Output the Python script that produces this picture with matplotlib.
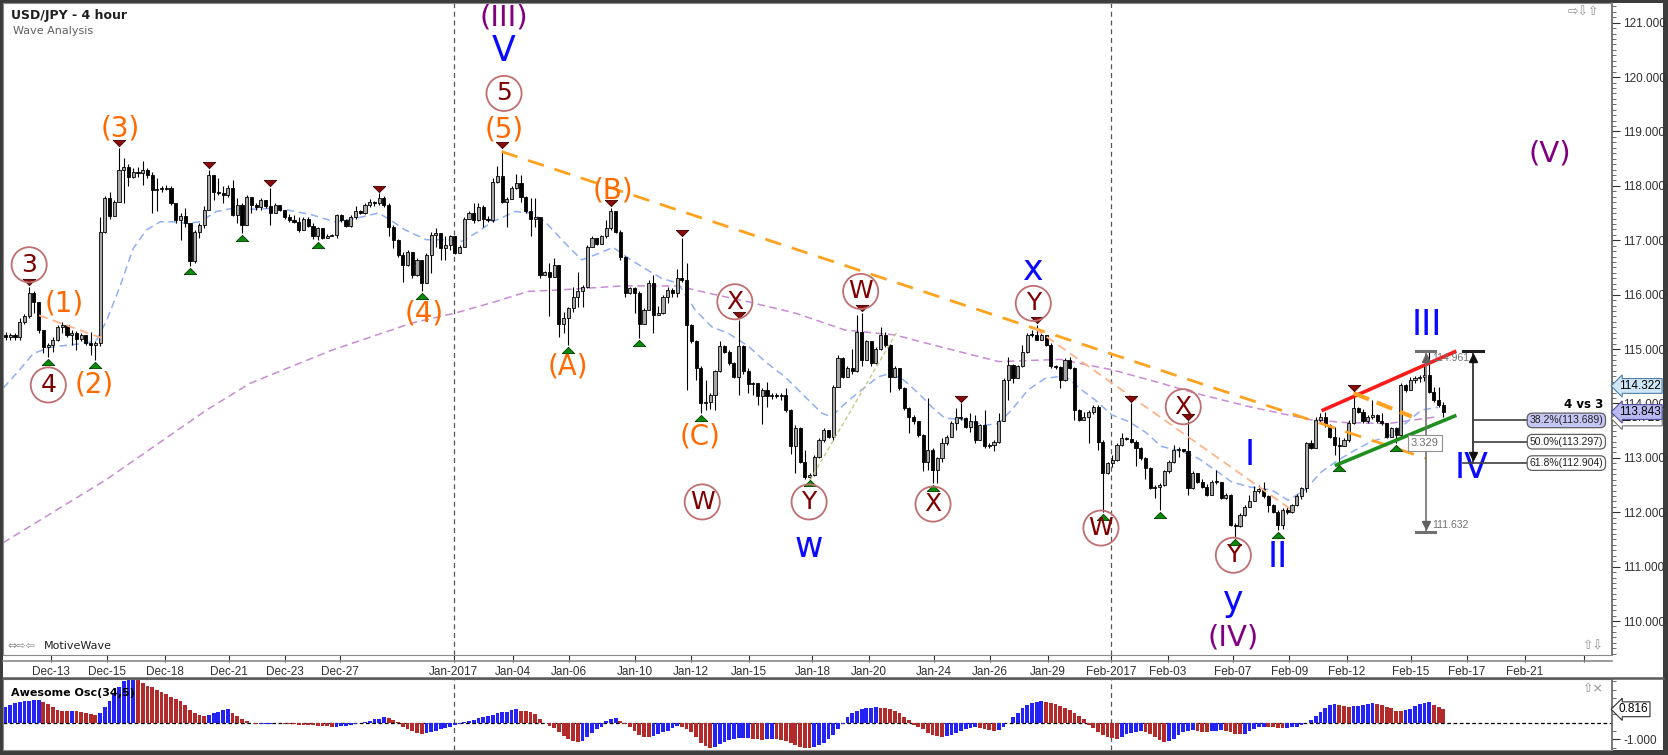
import matplotlib
matplotlib.use("Agg")
import matplotlib.pyplot as plt
import numpy as np
from matplotlib.patches import Rectangle
from matplotlib.lines import Line2D
from matplotlib.ticker import MultipleLocator, FixedLocator
import matplotlib.transforms as mtransforms

# ---------------- data ----------------
first_open = 115.25
closes = [
    115.23, 115.24, 115.23, 115.50, 115.60, 116.03, 115.87, 115.35, 115.03, 115.08,
    115.17, 115.41, 115.44, 115.26, 115.29, 115.18, 115.26, 115.11, 115.08, 115.11,
    117.16, 117.77, 117.45, 117.71, 118.29, 118.35, 118.17, 118.26, 118.23, 118.29,
    118.20, 117.93, 117.95, 117.94, 117.97, 117.68, 117.37, 117.45, 117.31, 116.61,
    117.16, 117.28, 117.56, 118.20, 117.89, 117.86, 117.83, 117.96, 117.47, 117.65,
    117.28, 117.79, 117.65, 117.61, 117.74, 117.63, 117.50, 117.65, 117.56, 117.43,
    117.37, 117.34, 117.19, 117.40, 117.26, 117.07, 117.22, 117.04, 117.08, 117.09,
    117.46, 117.37, 117.26, 117.43, 117.54, 117.51, 117.65, 117.71, 117.68, 117.77,
    117.65, 117.25, 117.01, 116.73, 116.55, 116.79, 116.36, 116.64, 116.21, 116.73,
    117.10, 117.13, 116.85, 116.91, 117.07, 116.77, 116.88, 117.40, 117.50, 117.37,
    117.62, 117.40, 117.37, 118.08, 118.18, 117.71, 117.75, 117.96, 118.05, 117.80,
    117.53, 117.40, 117.42, 116.36, 116.41, 116.33, 116.55, 115.47, 115.57, 115.75,
    115.96, 116.06, 116.15, 116.88, 117.04, 116.94, 117.07, 117.22, 117.53, 117.16,
    116.70, 116.03, 116.12, 116.03, 115.47, 115.72, 116.22, 115.63, 115.66, 115.96,
    116.09, 116.03, 116.30, 116.27, 115.44, 115.14, 114.65, 114.00, 114.03, 114.16,
    114.59, 115.05, 114.95, 114.74, 114.49, 115.05, 114.59, 114.35, 114.37, 114.13,
    114.25, 114.14, 114.16, 114.14, 114.16, 113.88, 113.21, 113.54, 112.93, 112.65,
    112.69, 113.02, 113.33, 113.51, 113.39, 114.31, 114.83, 114.49, 114.65, 114.59,
    115.32, 114.80, 115.14, 114.74, 115.01, 115.26, 115.08, 114.49, 114.65, 114.28,
    113.91, 113.76, 113.67, 113.42, 112.93, 113.15, 112.78, 113.00, 113.27, 113.39,
    113.64, 113.76, 113.73, 113.57, 113.67, 113.33, 113.60, 113.21, 113.24, 113.30,
    113.67, 114.43, 114.71, 114.46, 114.68, 114.95, 115.26, 115.25, 115.17, 115.26,
    115.08, 114.68, 114.67, 114.43, 114.80, 114.65, 113.88, 113.70, 113.76, 113.85,
    113.94, 113.30, 112.72, 112.90, 112.96, 113.24, 113.36, 113.34, 113.30, 113.18,
    112.99, 112.81, 112.44, 112.46, 112.50, 112.75, 112.93, 113.15, 113.16, 113.13,
    112.44, 112.72, 112.56, 112.47, 112.32, 112.56, 112.55, 112.26, 112.32, 111.77,
    111.75, 111.95, 112.10, 112.20, 112.40, 112.42, 112.29, 112.13, 112.01, 111.77,
    112.04, 112.01, 112.13, 112.29, 112.44, 113.27, 113.18, 113.70, 113.76, 113.60,
    113.39, 113.24, 113.21, 113.32, 113.64, 113.91, 113.85, 113.67, 113.76, 113.79,
    113.67, 113.64, 113.39, 113.54, 113.42, 114.34, 114.25, 114.43, 114.46, 114.48,
    114.52, 114.22, 114.06, 113.97, 113.84,
]
highs = [
    115.32, 115.30, 115.30, 115.57, 115.65, 116.15, 116.06, 115.79, 115.35, 115.12,
    115.23, 115.44, 115.50, 115.41, 115.35, 115.34, 115.30, 115.26, 115.32, 115.14,
    117.43, 117.81, 117.89, 117.74, 118.69, 118.51, 118.41, 118.32, 118.35, 118.45,
    118.32, 118.26, 118.14, 117.99, 118.02, 118.00, 117.68, 117.50, 117.59, 117.28,
    117.19, 117.31, 117.63, 118.29, 118.17, 118.14, 117.99, 118.02, 118.11, 117.77,
    117.68, 117.83, 117.80, 117.68, 117.77, 117.74, 117.96, 117.68, 117.65, 117.56,
    117.48, 117.47, 117.42, 117.43, 117.42, 117.32, 117.25, 117.22, 117.12, 117.11,
    117.48, 117.48, 117.40, 117.46, 117.63, 117.56, 117.68, 117.75, 117.73, 117.86,
    117.81, 117.69, 117.28, 117.02, 116.79, 116.82, 116.79, 116.67, 116.64, 116.76,
    117.16, 117.22, 117.14, 117.07, 117.10, 117.07, 116.91, 117.43, 117.54, 117.68,
    117.68, 117.65, 117.45, 118.14, 118.37, 118.66, 117.80, 117.99, 118.22, 118.20,
    117.81, 117.77, 117.77, 117.43, 116.44, 116.58, 116.67, 116.55, 115.69, 115.78,
    116.15, 116.42, 116.18, 116.91, 117.08, 117.05, 117.10, 117.37, 117.59, 117.53,
    117.19, 116.71, 116.15, 116.15, 116.06, 115.75, 116.27, 116.36, 115.79, 115.99,
    116.14, 116.12, 116.48, 117.04, 116.58, 115.47, 115.17, 114.68, 114.43, 114.20,
    114.62, 115.14, 115.08, 114.98, 114.77, 115.54, 115.08, 114.65, 114.40, 114.38,
    114.28, 114.40, 114.19, 114.19, 114.20, 114.28, 113.89, 113.60, 113.56, 113.15,
    112.72, 113.05, 113.36, 113.54, 113.52, 114.34, 114.89, 114.85, 114.68, 115.01,
    115.63, 115.66, 115.17, 115.12, 115.04, 115.41, 115.32, 115.09, 114.68, 114.66,
    114.30, 113.93, 113.79, 113.68, 113.44, 114.10, 113.18, 113.02, 113.36, 113.42,
    113.67, 113.91, 114.00, 113.75, 113.82, 113.79, 113.63, 113.88, 113.28, 113.33,
    113.82, 114.46, 114.86, 114.73, 114.71, 115.07, 115.29, 115.35, 115.44, 115.35,
    115.26, 115.12, 114.71, 114.69, 114.83, 114.86, 114.67, 113.89, 113.85, 113.88,
    113.97, 113.97, 113.32, 112.93, 113.05, 113.27, 113.45, 113.38, 114.00, 113.33,
    113.20, 113.01, 112.83, 112.50, 112.53, 112.78, 112.96, 113.24, 113.20, 113.17,
    113.67, 112.75, 112.73, 112.61, 112.52, 112.59, 112.78, 112.56, 112.35, 112.34,
    111.80, 111.98, 112.13, 112.32, 112.48, 112.50, 112.56, 112.32, 112.16, 112.04,
    112.07, 112.10, 112.16, 112.34, 112.47, 113.30, 113.33, 113.75, 113.82, 113.85,
    113.62, 113.56, 113.39, 113.36, 113.70, 114.19, 113.94, 113.89, 113.79, 114.06,
    113.81, 113.82, 113.65, 113.57, 113.56, 114.37, 114.36, 114.48, 114.50, 114.52,
    114.68, 114.96, 114.31, 114.31, 114.03,
]
lows = [
    115.17, 115.17, 115.17, 115.17, 115.47, 115.57, 115.66, 115.30, 114.92, 114.86,
    114.95, 115.14, 115.30, 115.23, 115.08, 114.98, 115.15, 115.08, 114.89, 114.80,
    115.05, 117.14, 117.40, 117.45, 117.71, 117.68, 117.99, 118.14, 118.17, 118.02,
    118.14, 117.50, 117.53, 117.89, 117.93, 117.65, 117.31, 117.01, 117.25, 116.52,
    116.58, 117.04, 117.22, 117.56, 117.74, 117.83, 117.68, 117.80, 117.44, 117.31,
    117.13, 117.28, 117.50, 117.56, 117.56, 117.59, 117.28, 117.51, 117.53, 117.40,
    117.34, 117.31, 117.16, 117.24, 117.24, 117.03, 117.00, 117.02, 117.05, 117.07,
    117.05, 117.34, 117.24, 117.25, 117.39, 117.48, 117.48, 117.61, 117.63, 117.65,
    117.62, 117.07, 116.85, 116.70, 116.24, 116.53, 116.30, 116.35, 116.06, 116.21,
    116.39, 116.88, 116.64, 116.64, 116.82, 116.75, 116.76, 116.87, 117.39, 117.31,
    117.36, 117.25, 117.34, 117.34, 118.05, 117.68, 117.25, 117.75, 117.94, 117.71,
    117.50, 117.07, 117.25, 116.30, 116.36, 115.60, 116.32, 115.23, 115.29, 115.08,
    115.69, 115.78, 115.78, 116.12, 116.87, 116.91, 116.93, 117.04, 117.19, 117.13,
    116.64, 115.96, 116.01, 115.66, 115.20, 115.46, 115.71, 115.29, 115.63, 115.65,
    115.84, 115.96, 115.96, 116.24, 114.25, 115.11, 114.43, 113.82, 113.88, 113.89,
    113.88, 114.57, 114.92, 114.71, 114.46, 114.16, 114.55, 114.20, 114.16, 113.97,
    113.63, 113.94, 114.08, 114.10, 114.06, 113.85, 113.08, 112.72, 112.90, 112.62,
    112.62, 112.67, 112.99, 113.30, 113.36, 113.33, 114.30, 114.46, 114.48, 114.55,
    114.57, 114.68, 114.80, 114.68, 114.73, 114.99, 115.04, 114.22, 114.48, 114.25,
    113.88, 113.45, 113.63, 113.39, 112.75, 112.78, 112.53, 112.53, 112.93, 113.24,
    113.38, 113.51, 113.70, 113.54, 113.48, 113.27, 113.32, 113.18, 113.19, 113.13,
    113.27, 113.69, 114.07, 114.37, 114.48, 114.67, 114.93, 115.22, 115.16, 115.16,
    115.05, 114.65, 114.63, 114.28, 114.42, 114.63, 113.70, 113.67, 113.71, 113.27,
    113.81, 113.15, 112.01, 112.70, 112.84, 112.95, 113.22, 113.32, 113.28, 112.85,
    112.96, 112.62, 112.42, 112.26, 112.04, 112.48, 112.73, 112.91, 113.01, 113.10,
    112.32, 112.42, 112.53, 112.44, 112.29, 112.34, 112.52, 112.24, 112.24, 111.75,
    111.55, 111.72, 111.93, 112.09, 112.25, 112.36, 112.26, 112.01, 111.98, 111.67,
    111.70, 111.97, 111.99, 112.11, 112.24, 112.38, 113.16, 113.22, 113.65, 113.57,
    113.36, 113.05, 112.90, 113.27, 113.30, 113.62, 113.82, 113.64, 113.65, 113.71,
    113.64, 113.60, 113.36, 113.38, 113.27, 113.39, 114.22, 114.24, 114.38, 114.40,
    114.42, 114.19, 114.03, 113.94, 113.76,
]
ao_values = [
    0.93, 1.07, 1.21, 1.27, 1.29, 1.33, 1.37, 1.38, 1.25, 1.11,
    0.93, 0.77, 0.71, 0.70, 0.72, 0.70, 0.65, 0.57, 0.51, 0.46,
    0.61, 0.93, 1.33, 1.74, 2.14, 2.55, 2.80, 3.00, 2.90, 2.38,
    2.24, 2.14, 1.98, 1.84, 1.72, 1.58, 1.43, 1.31, 1.05, 0.77,
    0.57, 0.46, 0.40, 0.46, 0.57, 0.67, 0.77, 0.81, 0.57, 0.40,
    0.20, 0.08, -0.04, -0.08, -0.07, -0.06, -0.05, -0.04, -0.02, -0.06,
    -0.08, -0.10, -0.11, -0.12, -0.14, -0.16, -0.18, -0.20, -0.22, -0.28,
    -0.24, -0.22, -0.18, -0.14, -0.10, -0.04, 0.02, 0.12, 0.20, 0.24,
    0.32, 0.26, 0.16, 0.04, -0.24, -0.40, -0.48, -0.61, -0.69, -0.65,
    -0.57, -0.48, -0.40, -0.32, -0.24, -0.16, -0.08, 0.02, 0.08, 0.16,
    0.30, 0.36, 0.40, 0.46, 0.57, 0.65, 0.67, 0.77, 0.83, 0.71,
    0.69, 0.67, 0.55, 0.25, 0.00, -0.18, -0.34, -0.55, -0.81, -1.01,
    -1.11, -1.17, -1.11, -0.89, -0.65, -0.40, -0.24, 0.12, 0.22, 0.26,
    0.12, -0.08, -0.28, -0.48, -0.75, -0.85, -0.86, -0.81, -0.71, -0.59,
    -0.48, -0.30, -0.22, -0.26, -0.36, -0.55, -0.89, -1.21, -1.41, -1.54,
    -1.49, -1.31, -1.17, -1.05, -0.97, -0.95, -0.94, -0.93, -0.97, -1.00,
    -1.03, -1.01, -0.97, -0.99, -1.04, -1.10, -1.25, -1.35, -1.45, -1.52,
    -1.55, -1.45, -1.35, -1.21, -1.01, -0.75, -0.40, -0.08, 0.32, 0.57,
    0.73, 0.83, 0.87, 0.91, 0.93, 0.92, 0.87, 0.81, 0.73, 0.57,
    0.32, 0.16, -0.14, -0.24, -0.40, -0.61, -0.73, -0.81, -0.85, -0.81,
    -0.73, -0.61, -0.51, -0.40, -0.32, -0.26, -0.30, -0.36, -0.42, -0.48,
    -0.44, -0.28, -0.04, 0.32, 0.61, 0.87, 1.05, 1.17, 1.27, 1.31,
    1.27, 1.21, 1.13, 1.01, 0.87, 0.77, 0.61, 0.40, 0.20, -0.14,
    -0.34, -0.55, -0.75, -0.89, -0.95, -0.96, -0.85, -0.71, -0.61, -0.55,
    -0.48, -0.55, -0.69, -0.89, -1.05, -1.15, -1.13, -0.97, -0.77, -0.57,
    -0.48, -0.44, -0.48, -0.55, -0.56, -0.51, -0.48, -0.44, -0.48, -0.59,
    -0.69, -0.71, -0.67, -0.48, -0.36, -0.26, -0.24, -0.25, -0.28, -0.30,
    -0.34, -0.32, -0.28, -0.24, -0.14, -0.04, 0.16, 0.40, 0.67, 0.91,
    1.07, 1.13, 1.07, 1.01, 0.95, 0.99, 1.03, 1.07, 1.13, 1.19,
    1.15, 1.07, 0.97, 0.87, 0.73, 0.71, 0.75, 0.85, 0.99, 1.13,
    1.21, 1.23, 1.08, 0.95, 0.816,
]

# moving averages (bar index, price)
fast_ma_idx = [-0.5, 3, 5.9, 9.4, 12.9, 17.2, 19.3, 21.4, 24.2, 27.0, 29.8, 32.7, 35.5, 38.3, 41.1,
               44.6, 48.2, 51.7, 57.7, 64.7, 69.6, 73.9, 78.8, 80.9, 84.5, 89.0, 92.9, 96.4, 100.0,
               102.8, 104.6, 107.7, 111.2, 114.1, 117.6, 121.8, 124.6, 128.5, 131.7, 135.2, 138.7,
               142.2, 145.8, 149.3, 152.8, 157.1, 160.6, 164.8, 169.0, 172.6, 174.6, 177.5, 181.0,
               184.5, 186.6, 189.5, 193.0, 195.8, 198.6, 202.9, 207.1, 209.9, 212.7, 216.2, 219.8,
               224.0, 227.5, 230.3, 233.9, 237.4, 240.9, 244.4, 248.6, 252.2, 255.7, 259.2, 262.8,
               267.7, 271.2, 274.7, 278.3, 281.8, 285.3, 288.8, 292.3, 295.9, 299.4, 302.9]
fast_ma_val = [114.28, 114.62, 114.92, 115.03, 115.07, 115.11, 115.17, 115.53, 116.15, 116.85, 117.19,
               117.34, 117.34, 117.31, 117.34, 117.53, 117.59, 117.57, 117.59, 117.47, 117.34, 117.40,
               117.50, 117.40, 117.19, 117.01, 117.01, 116.98, 117.16, 117.34, 117.40, 117.53, 117.50,
               117.34, 117.01, 116.64, 116.73, 116.87, 116.67, 116.48, 116.30, 116.21, 115.72, 115.41,
               115.29, 115.05, 114.77, 114.49, 114.13, 113.82, 113.76, 114.00, 114.25, 114.49, 114.54,
               114.46, 114.19, 113.94, 113.73, 113.70, 113.60, 113.63, 113.88, 114.25, 114.46, 114.51,
               114.25, 114.07, 113.79, 113.67, 113.48, 113.21, 113.12, 112.99, 112.78, 112.56, 112.47,
               112.41, 112.22, 112.41, 112.75, 112.96, 113.14, 113.30, 113.39, 113.63, 113.88, 113.93]
slow_ma_idx = [-0.5, 21.3, 42.5, 51.7, 69.0, 86.0, 95.0, 103.5, 110.5, 117.6, 130.3, 142.2, 148.5,
               157.0, 167.0, 177.5, 188.0, 198.6, 210.0, 223.0, 233.9, 244.4, 251.5, 263.0, 276.0,
               283.2, 292.3, 303.0]
slow_ma_val = [111.44, 112.60, 113.88, 114.37, 114.98, 115.48, 115.66, 115.87, 116.06, 116.09, 116.16,
               116.16, 116.03, 115.87, 115.66, 115.35, 115.26, 115.02, 114.77, 114.81, 114.62, 114.37,
               114.19, 113.94, 113.70, 113.65, 113.63, 113.76]

date_tick_pos = [9.6, 21.5, 33.7, 47.2, 59.0, 70.7, 94.8, 107.3, 119.1, 133.1, 145.0, 157.2, 170.6,
                 182.5, 196.3, 208.1, 220.4, 233.7, 245.8, 259.5, 271.4, 283.6, 297.1, 309.0, 321.2, 333.7]
date_tick_labels = ["Dec-13", "Dec-15", "Dec-18", "Dec-21", "Dec-23", "Dec-27", "Jan-2017", "Jan-04",
                    "Jan-06", "Jan-10", "Jan-12", "Jan-15", "Jan-18", "Jan-20", "Jan-24", "Jan-26",
                    "Jan-29", "Feb-2017", "Feb-03", "Feb-07", "Feb-09", "Feb-12", "Feb-15", "Feb-17",
                    "Feb-21", ""]

swing_high_idx = [5, 24, 43, 56, 79, 105, 128, 143, 155, 181, 202, 218, 238, 250, 285]
swing_low_idx = [9, 19, 39, 50, 66, 88, 119, 134, 147, 170, 196, 232, 244, 260, 269, 282, 294]

orange_labels = ["(1)", "(2)", "(3)", "(4)", "(5)", "(A)", "(B)", "(C)"]
orange_x = [12.4, 18.8, 24.2, 88.5, 105.4, 119.0, 128.5, 146.8]
orange_y = [115.84, 114.34, 119.06, 115.65, 119.03, 114.68, 117.92, 113.39]

circled_labels = ["3", "4", "5", "W", "X", "Y", "W", "X", "Y", "W", "X", "Y"]
circled_x = [5.0, 9.05, 105.4, 147.3, 154.2, 169.9, 180.8, 196.1, 217.3, 231.6, 249.0, 259.6]
circled_y = [116.55, 114.34, 119.70, 112.19, 115.87, 112.19, 116.06, 112.15, 115.84, 111.71, 113.94, 111.21]

blue_labels = ["V", "w", "x", "y", "I", "II", "III", "IV"]
blue_x = [105.4, 169.9, 217.3, 259.6, 263.1, 268.9, 300.5, 310.0]
blue_y = [120.48, 111.37, 116.45, 110.37, 113.05, 111.18, 115.44, 112.81]

purple_labels = ["(III)", "(IV)", "(V)"]
purple_x = [105.4, 259.6, 326.4]
purple_y = [121.09, 109.69, 118.60]

fib_levels = [113.689, 113.297, 112.904]
fib_names = ["38.2%", "50.0%", "61.8%"]
measure_high = 114.961
measure_low = 111.632
axis_price_labels = [113.725, 114.322, 113.843]
ao_last = 0.816

# ---------------- figure ----------------
PW, PH = 1668, 755
fig = plt.figure(figsize=(PW / 100, PH / 100), dpi=100)
fig.patch.set_facecolor('#3c3c3c')
fig.add_artist(Rectangle((3 / PW, 1 - 750 / PH), 1660 / PW, 747 / PH, transform=fig.transFigure,
                         facecolor='white', edgecolor='none', zorder=-10))

ax = fig.add_axes([3 / PW, 1 - 655 / PH, 1609 / PW, 652 / PH])
ax2 = fig.add_axes([3 / PW, 1 - 750 / PH, 1609 / PW, 71 / PH])

fig.add_artist(Line2D([3 / PW, 1612 / PW], [1 - 661 / PH] * 2, transform=fig.transFigure,
                      color='#8a8a8a', lw=1.2))
fig.add_artist(Line2D([3 / PW, 1663 / PW], [1 - 678 / PH] * 2, transform=fig.transFigure,
                      color='#5a5a5a', lw=1.8))

closes_a = np.array(closes)
highs_a = np.array(highs)
lows_a = np.array(lows)
opens_a = np.concatenate([[first_open], closes_a[:-1]])
n = len(closes_a)
idx = np.arange(n)
hi = np.maximum(highs_a, np.maximum(opens_a, closes_a))
lo = np.minimum(lows_a, np.minimum(opens_a, closes_a))

# moving averages
ax.plot(slow_ma_idx, slow_ma_val, color='#c98bd6', lw=1.1, ls=(0, (5, 3)), zorder=1)
ax.plot(fast_ma_idx, fast_ma_val, color='#8fb0f5', lw=1.1, ls=(0, (5, 3)), zorder=1)

# candles
ax.vlines(idx, lo, hi, color='black', lw=0.8, zorder=2)
up = closes_a >= opens_a
body = np.abs(closes_a - opens_a)
body = np.maximum(body, 0.02)
bottoms = np.minimum(opens_a, closes_a)
ax.bar(idx[up], body[up], bottom=bottoms[up], width=0.66, color='#a6a6a6', edgecolor='black',
       linewidth=0.6, zorder=3)
ax.bar(idx[~up], body[~up], bottom=bottoms[~up], width=0.66, color='black', edgecolor='black',
       linewidth=0.6, zorder=3)

# trend lines
ax.plot([104.9, 300.4], [118.63, 112.99], color='#ffa21f', lw=2.0, ls=(0, (6, 4)), zorder=4)
ax.plot([7.1, 21.4], [115.62, 115.17], color='#ffb48a', lw=1.3, ls=(0, (5, 3)), zorder=4)
ax.plot([217.6, 272.6], [115.38, 112.00], color='#ffb48a', lw=1.3, ls=(0, (5, 3)), zorder=4)
ax.plot([170.1, 188.7], [112.59, 115.35], color='#c8c884', lw=1.0, ls=(0, (3, 2)), zorder=4)
ax.plot([278.6, 306.4], [113.88, 114.95], color='#ff1a1a', lw=2.6, zorder=4)
ax.plot([281.4, 306.4], [112.87, 113.77], color='#1f8f1f', lw=2.6, zorder=4)
ax.plot([285.0, 297.3], [114.19, 113.76], color='#ffa21f', lw=3.0, ls=(0, (4, 2)), zorder=4)

# swing markers
tri_down = [(-1, 0.5), (1, 0.5), (0, -0.5), (-1, 0.5)]
tri_up = [(-1, -0.5), (1, -0.5), (0, 0.5), (-1, -0.5)]
tr_up = mtransforms.offset_copy(ax.transData, fig=fig, y=3.5, units='points')
tr_dn = mtransforms.offset_copy(ax.transData, fig=fig, y=-3.5, units='points')
ax.plot(swing_high_idx, hi[swing_high_idx], ls='none', marker=tri_down, ms=9, color='#8b0a0a',
        mec='#3a0000', mew=0.6, transform=tr_up, zorder=5)
ax.plot(swing_low_idx, lo[swing_low_idx], ls='none', marker=tri_up, ms=9, color='#0a8a0a',
        mec='#003a00', mew=0.6, transform=tr_dn, zorder=5)

# wave labels
for t, x, y in zip(orange_labels, orange_x, orange_y):
    ax.text(x, y, t, color='#ff6a00', fontsize=20, ha='center', va='center', zorder=6)
ax.scatter(circled_x, circled_y, s=640, facecolors='none', edgecolors='#bf6f6f', linewidths=1.3, zorder=6)
for t, x, y in zip(circled_labels, circled_x, circled_y):
    ax.text(x, y, t, color='#7f0000', fontsize=18, ha='center', va='center', zorder=7)
for t, x, y in zip(blue_labels, blue_x, blue_y):
    ax.text(x, y, t, color='#0a0aff', fontsize=25, ha='center', va='center', zorder=6)
for t, x, y in zip(purple_labels, purple_x, purple_y):
    ax.text(x, y, t, color='#800080', fontsize=21, ha='center', va='center', zorder=6)

# measurement (gray)
mx = 300.3
ax.plot([mx, mx], [measure_low, measure_high], color='#707070', lw=1.2, zorder=6)
ax.plot([mx - 2.0, mx + 2.0], [measure_high] * 2, color='#707070', lw=2.2, zorder=6)
ax.plot([mx - 2.0, mx + 2.0], [measure_low] * 2, color='#707070', lw=2.2, zorder=6)
ax.plot([mx], [measure_high], marker='^', ms=6, color='#606060',
        transform=mtransforms.offset_copy(ax.transData, fig=fig, y=-5, units='points'), zorder=6)
ax.plot([mx], [measure_low], marker='v', ms=6, color='#606060',
        transform=mtransforms.offset_copy(ax.transData, fig=fig, y=5, units='points'), zorder=6)
ax.text(mx + 1.3, measure_high - 0.13, f"{measure_high:.3f}", color='#707070', fontsize=7.5,
        family='Liberation Sans', ha='left', va='center', zorder=6)
ax.text(mx + 1.3, measure_low + 0.14, f"{measure_low:.3f}", color='#707070', fontsize=7.5,
        family='Liberation Sans', ha='left', va='center', zorder=6)
ax.text(mx - 0.2, 113.27, f"{measure_high - measure_low:.3f}", color='#707070', fontsize=8,
        family='Liberation Sans', ha='center', va='center', zorder=7,
        bbox=dict(boxstyle='square,pad=0.25', fc='white', ec='#909090', lw=0.8))

# measurement (black) with fib levels
bx = 310.3
ax.plot([bx, bx], [fib_levels[-1], measure_high], color='#202020', lw=1.2, zorder=6)
ax.plot([bx - 2.1, bx + 2.1], [measure_high] * 2, color='#202020', lw=2.2, zorder=6)
ax.plot([bx], [measure_high], marker='^', ms=6, color='#101010',
        transform=mtransforms.offset_copy(ax.transData, fig=fig, y=-5, units='points'), zorder=6)
ax.plot([bx], [fib_levels[-1]], marker='v', ms=6, color='#101010',
        transform=mtransforms.offset_copy(ax.transData, fig=fig, y=5, units='points'), zorder=6)
for k, (lev, name) in enumerate(zip(fib_levels, fib_names)):
    x0 = bx - 2.1 if k == len(fib_levels) - 1 else bx
    ax.plot([x0, 322.3], [lev, lev], color='#404040', lw=1.2, zorder=6)
    ax.text(330.0, lev, f"{name}({lev:.3f})", fontsize=7.5, family='Liberation Sans',
            ha='center', va='center', color='#202020', zorder=7,
            bbox=dict(boxstyle='round,pad=0.22,rounding_size=0.5',
                      fc='#c6c6f4' if k == 0 else 'white', ec='#606060', lw=0.9))
ax.text(337.7, 113.99, "4 vs 3", fontsize=8.5, weight='bold', ha='right', va='center', zorder=7)

# vertical month separators
for lab in ("Jan-2017", "Feb-2017"):
    xv = date_tick_pos[date_tick_labels.index(lab)]
    ax.axvline(xv, color='#555555', lw=0.9, ls=(0, (4, 3)), zorder=0.5)
    ax2.axvline(xv, color='#555555', lw=0.9, ls=(0, (4, 3)), zorder=0.5)

# axes formatting
ax.set_xlim(-0.53, 339.65)
ax.set_ylim(109.376, 121.362)
ax.yaxis.tick_right()
yt = np.arange(110, 122, 1.0)
ax.set_yticks(yt)
ax.set_yticklabels([f"{v:.3f}" for v in yt], family='Liberation Sans', fontsize=8.5)
ax.yaxis.set_minor_locator(MultipleLocator(0.1))
ax.tick_params(axis='y', which='major', length=6, width=0.8, pad=2, colors='#303030')
ax.tick_params(axis='y', which='minor', length=3, width=0.6, colors='#505050')
ax.set_xticks(date_tick_pos)
ax.set_xticklabels(date_tick_labels, family='Liberation Sans', fontsize=8.5)
ax.tick_params(axis='x', length=5, width=0.8, pad=3, colors='#303030')
for sp in ax.spines.values():
    sp.set_color('#8a8a8a')
ax.spines['right'].set_color('#606060')
ax.spines['right'].set_linewidth(1.2)

# right-side price boxes
for v, fc, ec in zip(axis_price_labels, ['white', '#cfe6f6', '#b9b9f2'], ['#707070', '#4f7fa8', '#5050a0']):
    ax.annotate(f"{v:.3f}", xy=(1.0, v), xycoords=('axes fraction', 'data'), xytext=(5, 0),
                textcoords='offset points', ha='left', va='center', fontsize=8.5,
                family='Liberation Sans', annotation_clip=False, zorder=8,
                bbox=dict(boxstyle='larrow,pad=0.12', fc=fc, ec=ec, lw=0.8))

# awesome oscillator
ao = np.array(ao_values)
cols = ['#2323f5' if (i == 0 or ao[i] >= ao[i - 1]) else '#b22a2a' for i in range(len(ao))]
ax2.bar(np.arange(len(ao)), ao, width=0.8, color=cols, edgecolor='none', zorder=2)
ax2.axhline(0, color='black', lw=0.9, ls=(0, (3, 2)), zorder=1)
ax2.set_xlim(-0.53, 339.65)
ax2.set_ylim(-1.65, 2.65)
ax2.yaxis.tick_right()
ax2.set_xticks([])
ax2.set_yticks([-1.0])
ax2.set_yticklabels(["-1.000"], family='Liberation Sans', fontsize=8.5)
ax2.yaxis.set_minor_locator(FixedLocator([-1.5, -0.5, 0.5, 1.0, 1.5, 2.0, 2.5]))
ax2.tick_params(axis='y', which='major', length=6, width=0.8, pad=2, colors='#303030')
ax2.tick_params(axis='y', which='minor', length=3, width=0.6, colors='#505050')
for sp in ax2.spines.values():
    sp.set_color('#8a8a8a')
ax2.spines['right'].set_color('#606060')
ax2.spines['right'].set_linewidth(1.2)
ax2.annotate(f"{ao_last:.3f}", xy=(1.0, ao_last), xycoords=('axes fraction', 'data'), xytext=(5, 0),
             textcoords='offset points', ha='left', va='center', fontsize=8.5, family='Liberation Sans',
             annotation_clip=False, bbox=dict(boxstyle='larrow,pad=0.12', fc='white', ec='#303030', lw=0.8))
ax2.text(0.005, 0.80, "Awesome Osc(34,5)", transform=ax2.transAxes, fontsize=8, weight='bold',
         ha='left', va='center')

# header / chrome texts
fig.text(11 / PW, 1 - 15 / PH, "USD/JPY - 4 hour", fontsize=9, weight='bold', ha='left', va='center',
         color='#202020')
fig.text(13 / PW, 1 - 31 / PH, "Wave Analysis", fontsize=8, ha='left', va='center', color='#606060')
fig.text(7 / PW, 1 - 646 / PH, "\u21d4\u21e8\u21e6", fontsize=8, ha='left', va='center', color='#909090')
fig.text(44 / PW, 1 - 646 / PH, "MotiveWave", fontsize=8, ha='left', va='center', color='#202020')
fig.text(1568 / PW, 1 - 12 / PH, "\u21e8\u21e9\u21e7", fontsize=9, ha='left', va='center', color='#909090')
fig.text(1583 / PW, 1 - 646 / PH, "\u21e7\u21e9", fontsize=9, ha='left', va='center', color='#909090')
fig.text(1583 / PW, 1 - 688 / PH, "\u21e7\u00d7", fontsize=9, ha='left', va='center', color='#909090')

fig.savefig("out.png", dpi=100, facecolor=fig.get_facecolor())
